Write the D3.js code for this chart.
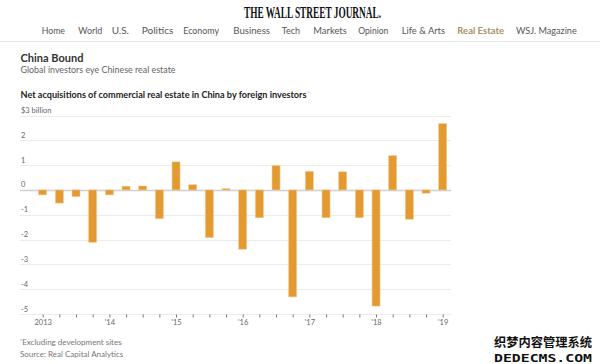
<!DOCTYPE html>
<html lang='en'>
  <head>
    <style type='text/css'>
      body {margin: 0; background-color: #fff;}
      svg {display: block; font-family: Lato, 'Noto Sans', sans-serif;}
    </style>
  </head>
  <body>
    <svg id='chart' width='600' height='364'></svg>
    <script src='https://cdn.jsdelivr.net/npm/d3@7'></script>
    <script type='text/javascript'>
        // Quarterly net acquisitions, $ billion
        var quarters = [
          "2013 Q1", "2013 Q2", "2013 Q3", "2013 Q4",
          "2014 Q1", "2014 Q2", "2014 Q3", "2014 Q4",
          "2015 Q1", "2015 Q2", "2015 Q3", "2015 Q4",
          "2016 Q1", "2016 Q2", "2016 Q3", "2016 Q4",
          "2017 Q1", "2017 Q2", "2017 Q3", "2017 Q4",
          "2018 Q1", "2018 Q2", "2018 Q3", "2018 Q4",
          "2019 Q1"
        ];
        var values = [
          -0.2, -0.53, -0.27, -2.11,
          -0.2, 0.15, 0.16, -1.16,
          1.13, 0.21, -1.92, 0.05,
          -2.39, -1.12, 0.98, -4.31,
          0.75, -1.12, 0.73, -1.12,
          -4.68, 1.38, -1.18, -0.13,
          2.67
        ];
        var yearLabels = ["2013", "'14", "'15", "'16", "'17", "'18", "'19"];
        var yTicks = [3, 2, 1, 0, -1, -2, -3, -4, -5];
        var navItems = ["Home", "World", "U.S.", "Politics", "Economy", "Business", "Tech",
                        "Markets", "Opinion", "Life & Arts", "Real Estate", "WSJ. Magazine"];
        // left / right edge of each nav word in the header
        var navLeft  = [41.7, 78.3, 111.7, 141.7, 183.3, 233.3, 281.7, 313.3, 358.3, 401.7, 457.3, 516];
        var navRight = [65, 102.3, 129, 173.3, 219, 270, 300, 346.7, 388.3, 445, 504, 576.7];

        var svg = d3.select("#chart");

        // Masthead
        svg.append("text")
            .attr("x", 244).attr("y", 18)
            .attr("textLength", 137).attr("lengthAdjust", "spacingAndGlyphs")
            .style("font-family", "'Liberation Serif', serif")
            .style("font-weight", "bold")
            .style("font-size", "16px")
            .style("fill", "#111")
            .text("THE WALL STREET JOURNAL.");

        // Navigation
        svg.append("g").style("font-size", "9.5px")
          .selectAll("text").data(navItems).enter().append("text")
            .attr("x", function(d, i) { return navLeft[i]; })
            .attr("y", 34)
            .attr("textLength", function(d, i) { return navRight[i] - navLeft[i]; })
            .attr("lengthAdjust", "spacingAndGlyphs")
            .style("fill", function(d) { return d === "Real Estate" ? "#a8906a" : "#555"; })
            .style("font-weight", function(d) { return d === "Real Estate" ? "bold" : "normal"; })
            .text(function(d) { return d; });

        svg.append("line")
            .attr("x1", 0).attr("x2", 600).attr("y1", 41.5).attr("y2", 41.5)
            .style("stroke", "#e6e6e6");

        // Titles
        svg.append("text").attr("x", 20.5).attr("y", 62)
            .style("font-size", "11px").style("font-weight", "bold").style("fill", "#333")
            .text("China Bound");
        svg.append("text").attr("x", 20.5).attr("y", 73)
            .attr("textLength", 155).attr("lengthAdjust", "spacingAndGlyphs")
            .style("font-size", "9px").style("fill", "#666")
            .text("Global investors eye Chinese real estate");
        var t = svg.append("text").attr("x", 20.5).attr("y", 97.5)
            .style("font-size", "8.5px").style("font-weight", "bold").style("fill", "#222");
        t.append("tspan").attr("textLength", 286).attr("lengthAdjust", "spacingAndGlyphs")
            .text("Net acquisitions of commercial real estate in China by foreign investors");
        t.append("tspan").attr("dx", 1).attr("dy", -2.5).style("font-size", "5px").style("font-weight", "normal")
            .style("fill", "#999").text("*");

        // Scales
        var x = d3.scaleLinear().domain([0, quarters.length - 1]).range([42.7, 442.7]);
        var y = d3.scaleLinear().domain([-5, 3]).range([314, 115.5]);
        var left = 20, right = 451, barW = 8;

        // Gridlines and y labels
        var grid = svg.append("g");
        grid.selectAll("line").data(yTicks).enter().append("line")
            .attr("x1", left).attr("x2", right)
            .attr("y1", function(d) { return Math.round(y(d)) + 0.5; })
            .attr("y2", function(d) { return Math.round(y(d)) + 0.5; })
            .style("stroke", function(d) { return d === 0 ? "#cfcfcf" : "#ebebeb"; })
            .style("stroke-width", function(d) { return d === 0 ? 1.5 : 1; });
        grid.selectAll("text").data(yTicks).enter().append("text")
            .attr("x", 21)
            .attr("y", function(d) { return y(d) - 2.5; })
            .style("font-size", "7.5px").style("fill", "#666")
            .text(function(d) { return d === 3 ? "$3 billion" : d; });

        // Bars
        svg.append("g").selectAll("rect").data(values).enter().append("rect")
            .attr("x", function(d, i) { return x(i) - barW / 2; })
            .attr("y", function(d) { return y(Math.max(0, d)); })
            .attr("width", barW)
            .attr("height", function(d) { return Math.abs(y(d) - y(0)); })
            .style("fill", "#e39a31")
            .style("stroke", "#f3c98c")
            .style("stroke-width", 0.6);

        // Bottom axis with quarterly ticks
        var axis = svg.append("g")
            .attr("transform", "translate(0," + (y(-5) + 0.5) + ")")
            .call(d3.axisBottom(x)
              .tickValues(d3.range(quarters.length))
              .tickSize(3)
              .tickFormat(function(i) { return i % 4 === 0 ? yearLabels[i / 4] : ""; }));
        axis.select(".domain").remove();
        axis.selectAll(".tick line").style("stroke", "#777");
        axis.selectAll(".tick text")
            .style("font-family", "Lato, sans-serif")
            .style("font-size", "7.5px").style("fill", "#666")
            .attr("y", 5);

        // Footnotes
        var fn = svg.append("text").attr("x", 20).attr("y", 345)
            .style("font-size", "8px").style("fill", "#777");
        fn.append("tspan").attr("dy", -2.5).style("font-size", "5px").text("*");
        fn.append("tspan").attr("dy", 2.5).text("Excluding development sites");
        svg.append("text").attr("x", 20).attr("y", 357)
            .style("font-size", "8px").style("fill", "#777")
            .text("Source: Real Capital Analytics");

        // Watermark
        svg.append("text").attr("x", 494).attr("y", 347)
            .attr("textLength", 98).attr("lengthAdjust", "spacingAndGlyphs")
            .style("font-family", "'Noto Sans CJK SC', sans-serif")
            .style("font-weight", "bold").style("font-size", "12.5px").style("fill", "#111")
            .text("织梦内容管理系统");
        svg.append("text").attr("x", 494).attr("y", 362)
            .attr("textLength", 98).attr("lengthAdjust", "spacingAndGlyphs")
            .style("font-family", "'DejaVu Sans Mono', monospace")
            .style("font-weight", "bold").style("font-size", "11px").style("fill", "#111")
            .text("DEDECMS.COM");
    </script>
  </body>
</html>
